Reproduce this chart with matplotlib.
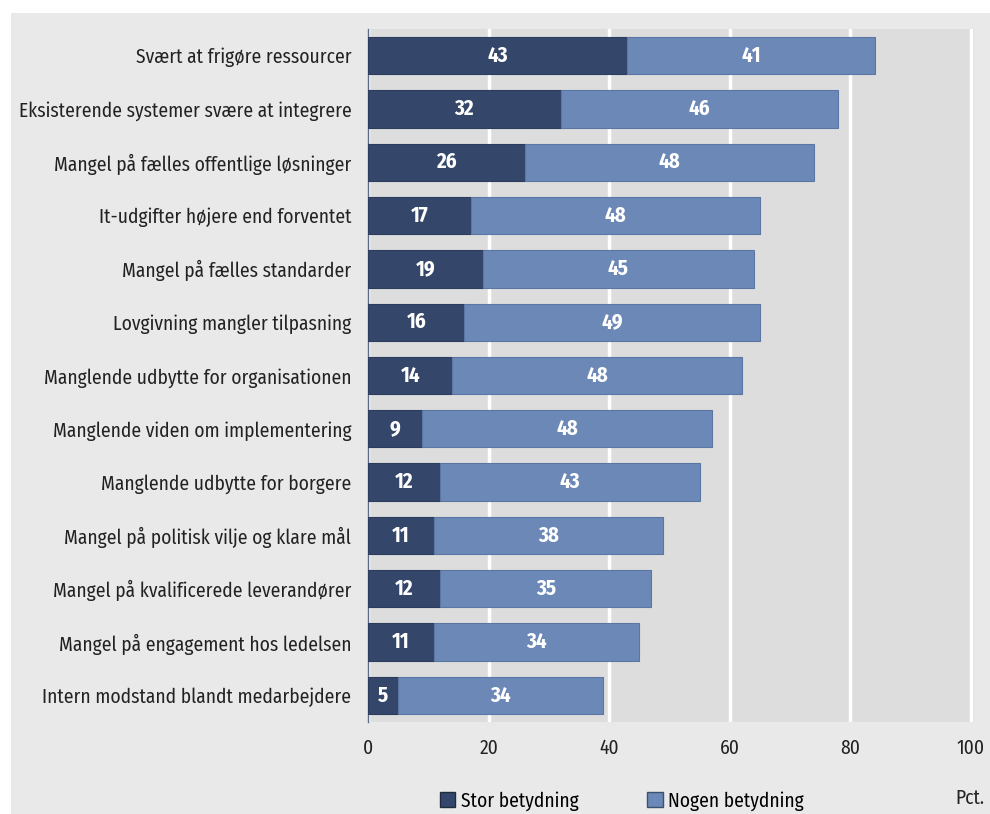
import matplotlib.pyplot as plt
from matplotlib.patches import Rectangle, Patch

plt.rcParams['font.family'] = ['Fira Sans Condensed', 'Roboto Condensed', 'DejaVu Sans']

categories = ['Svært at frigøre ressourcer',
              'Eksisterende systemer svære at integrere',
              'Mangel på fælles offentlige løsninger',
              'It-udgifter højere end forventet',
              'Mangel på fælles standarder',
              'Lovgivning mangler tilpasning',
              'Manglende udbytte for organisationen',
              'Manglende viden om implementering',
              'Manglende udbytte for borgere',
              'Mangel på politisk vilje og klare mål',
              'Mangel på kvalificerede leverandører',
              'Mangel på engagement hos ledelsen',
              'Intern modstand blandt medarbejdere']
stor = [43, 32, 26, 17, 19, 16, 14, 9, 12, 11, 12, 11, 5]
nogen = [41, 46, 48, 48, 45, 49, 48, 48, 43, 38, 35, 34, 34]
xticks = [0, 20, 40, 60, 80, 100]

dark = '#34466a'
light = '#6c88b7'
fs = 14

fig = plt.figure(figsize=(9.9, 8.14), dpi=100)
fig.patch.set_facecolor('white')
fig.patches.append(Rectangle((11/990, 0), 1, 1 - 13/814, transform=fig.transFigure,
                             facecolor='#e9e9e9', edgecolor='none', zorder=-10))

ax = fig.add_axes([368/990, 1 - 722/814, (974 - 368)/990, (722 - 29)/814])
ax.set_facecolor('#dddddd')
y = list(range(len(categories)))
ax.barh(y, stor, height=0.7, color=dark, edgecolor='#2c3c5c', linewidth=0.8, zorder=3)
ax.barh(y, nogen, left=stor, height=0.7, color=light, edgecolor='#5a76a4', linewidth=0.8, zorder=3)
for i in y:
    ax.text(stor[i] / 2, i, str(stor[i]), color='white', fontweight='bold',
            ha='center', va='center', fontsize=15, zorder=4)
    ax.text(stor[i] + nogen[i] / 2, i, str(nogen[i]), color='white', fontweight='bold',
            ha='center', va='center', fontsize=15, zorder=4)

ax.set_ylim(len(categories) - 0.5, -0.5)
ax.set_xlim(0, 100.5)
ax.set_yticks(y)
ax.set_yticklabels(categories, fontsize=fs, color='#222222')
ax.set_xticks(xticks)
ax.set_xticklabels([str(t) for t in xticks], fontsize=fs, color='#222222')
ax.tick_params(length=0)
ax.tick_params(axis='x', pad=12)
ax.tick_params(axis='y', pad=12)
ax.grid(axis='x', color='white', linewidth=2.5, zorder=1)
ax.set_axisbelow(True)
for s in ['top', 'right', 'bottom']:
    ax.spines[s].set_visible(False)
ax.spines['left'].set_color('#5a6a88')
ax.spines['left'].set_linewidth(1)

handles = [Patch(facecolor=dark, edgecolor='#222b3d', label='Stor betydning'),
           Patch(facecolor=light, edgecolor='#3d5070', label='Nogen betydning')]
fig.legend(handles=handles, loc='center', bbox_to_anchor=(622/990, 1 - 801/814), ncol=2,
           frameon=False, fontsize=fs, handlelength=0.8, handleheight=0.8,
           handletextpad=0.3, columnspacing=3.5)
fig.text(970/990, 1 - 798/814, 'Pct.', ha='center', va='center', fontsize=fs, color='#222222')

fig.savefig('out.png', dpi=100, facecolor=fig.get_facecolor())
